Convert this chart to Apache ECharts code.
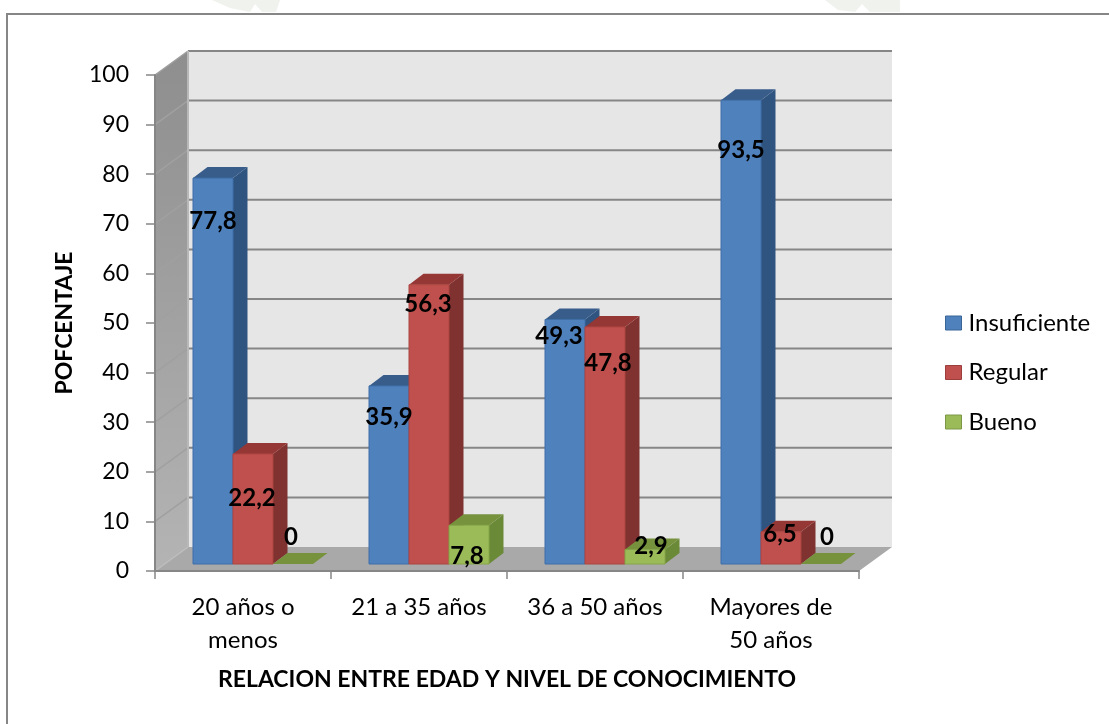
<!DOCTYPE html>
<html>
<head>
<meta charset="utf-8">
<style>html,body{margin:0;padding:0;background:#fff}#c{width:1109px;height:724px}</style>
<script src="https://cdn.jsdelivr.net/npm/echarts@6/dist/echarts.min.js"></script>
</head>
<body>
<div id="c"></div>
<script>
const categories = ['20 años o\nmenos', '21 a 35 años', '36 a 50 años', 'Mayores de\n50 años'];
const insuficiente = [77.8, 35.9, 49.3, 93.5];
const regular = [22.2, 56.3, 47.8, 6.5];
const bueno = [0, 7.8, 2.9, 0];
const yTicks = [0, 10, 20, 30, 40, 50, 60, 70, 80, 90, 100];

// Hand-placed data label offsets (px from the centre of the bar's top front edge)
const insuficienteLabelShift = [[0, 43], [0, 31], [-6, 17], [0, 50]];
const regularLabelShift = [[-1, 44], [-1, 20], [3, 36], [-1, 3]];
const buenoLabelShift = [[-2, -27], [-2, 31], [6, -3], [6, -27]];

const FONT = 'Lato, "Open Sans", sans-serif';
const WALL_DX = 33, WALL_DY = -24;          // back wall offset from the front plane
const BAR_DX = 10, BAR_DY = -7;             // bar front plane offset
const SIDE_DX = 14.5, SIDE_DY = -11;        // bar depth
const BAR_BAND = 40 / 176;

function poly(points, fill, extra) {
  return Object.assign({ type: 'polygon', shape: { points }, style: { fill, stroke: null } }, extra || {});
}

function wallItem(params, api) {
  const bl = api.coord([0, 0]);
  const size = api.size([1, 0])[0];
  const left = bl[0] - size / 2;
  const right = left + size * categories.length;
  const y0 = bl[1];
  const y100 = api.coord([0, 100])[1];
  const c = [];
  // left side wall
  c.push(poly([[left, y0], [left + WALL_DX, y0 + WALL_DY], [left + WALL_DX, y100 + WALL_DY], [left, y100]], {
    type: 'linear', x: 0, y: 0, x2: 0, y2: 1,
    colorStops: [{ offset: 0, color: '#8e8e8e' }, { offset: 1, color: '#b4b4b4' }]
  }));
  // back wall
  c.push(poly([[left + WALL_DX, y0 + WALL_DY], [right + WALL_DX, y0 + WALL_DY], [right + WALL_DX, y100 + WALL_DY], [left + WALL_DX, y100 + WALL_DY]], '#e6e6e6'));
  // floor
  c.push(poly([[left, y0], [right, y0], [right + WALL_DX, y0 + WALL_DY], [left + WALL_DX, y0 + WALL_DY]], '#a9a9a9'));
  // gridlines
  yTicks.forEach(t => {
    const y = api.coord([0, t])[1];
    const lineStyle = { stroke: '#868686', lineWidth: 2, fill: null };
    if (t > 0) {
      c.push({ type: 'line', shape: { x1: left + WALL_DX, y1: y + WALL_DY, x2: right + WALL_DX, y2: y + WALL_DY }, style: lineStyle });
    }
    c.push({ type: 'line', shape: { x1: left, y1: y, x2: left + WALL_DX, y2: y + WALL_DY },
      style: { stroke: t === 0 ? '#bdbdbd' : '#a0a0a0', lineWidth: 1.5, fill: null } });
  });
  c.push({ type: 'line', shape: { x1: left + WALL_DX, y1: y0 + WALL_DY, x2: left + WALL_DX, y2: y100 + WALL_DY }, style: { stroke: '#b8b8b8', lineWidth: 2, fill: null } });
  return { type: 'group', children: c };
}

function barSeries(name, values, slot, colors, shifts) {
  return {
    name,
    type: 'custom',
    z: 3,
    coordinateSystem: 'cartesian2d',
    itemStyle: { color: colors.front },
    data: values.map((v, i) => [i, v]),
    encode: { x: 0, y: 1 },
    renderItem(params, api) {
      const cat = api.value(0), val = api.value(1);
      const top = api.coord([cat, val]);
      const base = api.coord([cat, 0]);
      const band = api.size([1, 0])[0];
      const w = band * BAR_BAND;
      const x0 = top[0] + BAR_DX + (slot - 2.5) * w;
      const x1 = x0 + w;
      const yT = top[1] + BAR_DY, yB = base[1] + BAR_DY;
      const kids = [];
      if (val > 0) {
        kids.push(poly([[x1, yT], [x1 + SIDE_DX, yT + SIDE_DY], [x1 + SIDE_DX, yB + SIDE_DY], [x1, yB]], colors.side));
      }
      kids.push(poly([[x0, yT], [x1, yT], [x1 + SIDE_DX, yT + SIDE_DY], [x0 + SIDE_DX, yT + SIDE_DY]], colors.top));
      if (val > 0) {
        kids.push({ type: 'rect', shape: { x: x0, y: yT, width: w, height: yB - yT },
          style: { fill: colors.front, stroke: colors.edge, lineWidth: 1 } });
      }
      const s = shifts[cat];
      kids.push({
        type: 'text', z2: 100,
        style: {
          text: String(val).replace('.', ','),
          x: (x0 + x1) / 2 + s[0], y: yT + s[1],
          align: 'center', verticalAlign: 'middle',
          font: 'bold 24px ' + FONT, fill: '#000'
        }
      });
      return { type: 'group', children: kids };
    }
  };
}

const blue = { front: '#4f81bd', side: '#2f5480', top: '#385d8a', edge: '#3f6fa8' };
const red = { front: '#c0504d', side: '#7f322f', top: '#953735', edge: '#ab4441' };
const green = { front: '#9bbb59', side: '#6b8a38', top: '#76923c', edge: '#86a548' };

const chart = echarts.init(document.getElementById('c'), null, { renderer: 'canvas' });
chart.setOption({
  backgroundColor: '#fff',
  animation: false,
  grid: { left: 155, top: 75, width: 704, height: 496, containLabel: false },
  legend: {
    left: 945, top: 311, padding: 0, orient: 'vertical', itemWidth: 16, itemHeight: 14, itemGap: 25.5,
    textStyle: { fontFamily: FONT, fontSize: 24, color: '#000', lineHeight: 22, padding: [0, 0, 0, 2] },
    data: [
      { name: 'Insuficiente', icon: 'rect', itemStyle: { color: blue.front, borderColor: '#3a6597', borderWidth: 1 } },
      { name: 'Regular', icon: 'rect', itemStyle: { color: red.front, borderColor: '#9c3f3c', borderWidth: 1 } },
      { name: 'Bueno', icon: 'rect', itemStyle: { color: green.front, borderColor: '#7c9746', borderWidth: 1 } }
    ]
  },
  xAxis: {
    type: 'category', data: categories, z: 2,
    name: 'RELACION ENTRE EDAD Y NIVEL DE CONOCIMIENTO',
    nameLocation: 'middle', nameGap: 97,
    nameTextStyle: { fontFamily: FONT, fontSize: 23, fontWeight: 'bold', color: '#000' },
    axisLine: { lineStyle: { color: '#868686', width: 2 } },
    axisTick: { show: true, length: 8, alignWithLabel: false, lineStyle: { color: '#868686', width: 1.5 } },
    axisLabel: { fontFamily: FONT, fontSize: 24, color: '#000', margin: 20, lineHeight: 33, interval: 0 },
    splitLine: { show: false }
  },
  yAxis: {
    type: 'value', min: 0, max: 100, interval: 10, z: 2,
    name: 'POFCENTAJE', nameLocation: 'middle', nameGap: 79, nameRotate: 90,
    nameTextStyle: { fontFamily: FONT, fontSize: 23, fontWeight: 'bold', color: '#000' },
    axisLine: { show: true, lineStyle: { color: '#868686', width: 2 } },
    axisTick: { show: true, length: 9, lineStyle: { color: '#868686', width: 1.5 } },
    axisLabel: { fontFamily: FONT, fontSize: 23, color: '#000', margin: 26, padding: [4, 0, 0, 0] },
    splitLine: { show: false }
  },
  graphic: {
    elements: [
      { type: 'polyline', silent: true, shape: { points: [[7, 724], [7, 14], [1109, 14]] }, style: { stroke: '#868686', lineWidth: 2, fill: null } },
      { type: 'polygon', silent: true, z: -1, shape: { points: [[212, 0], [280, 0], [276, 12], [262, 12], [255, 4], [250, 12], [230, 8]] }, style: { fill: '#f0f2ee' } },
      { type: 'polygon', silent: true, z: -1, shape: { points: [[825, 0], [900, 0], [900, 12], [870, 12], [862, 4], [855, 12], [838, 10]] }, style: { fill: '#f0f2ee' } }
    ]
  },
  series: [
    { name: 'Paredes', type: 'custom', z: 1, silent: true, data: [[0, 0]], encode: { x: 0, y: 1 }, renderItem: wallItem },
    barSeries('Insuficiente', insuficiente, 1, blue, insuficienteLabelShift),
    barSeries('Regular', regular, 2, red, regularLabelShift),
    barSeries('Bueno', bueno, 3, green, buenoLabelShift)
  ]
});
</script>
</body>
</html>
